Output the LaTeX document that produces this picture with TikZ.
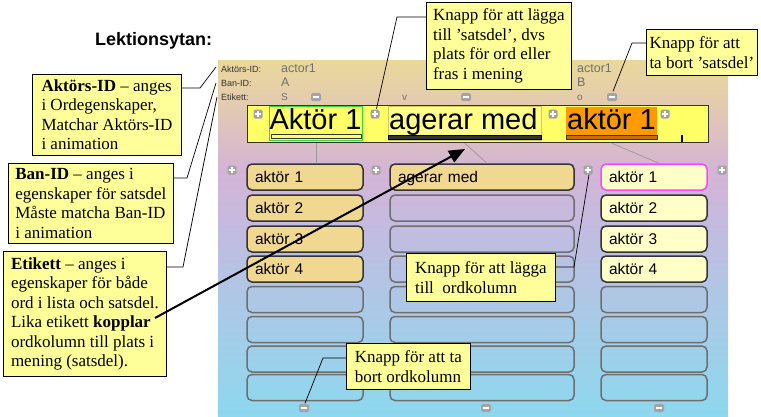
\documentclass[tikz,border=0pt]{standalone}
\usepackage{fontspec}
\setmainfont{Liberation Serif}
\newfontfamily\arial{Liberation Sans}
\usetikzlibrary{arrows.meta,calc}
\definecolor{callfill}{HTML}{FFFF99}
\definecolor{baryel}{HTML}{FFFF66}
\definecolor{segyel}{HTML}{FFFF88}
\definecolor{tan}{HTML}{F0D890}
\definecolor{lightyel}{HTML}{FFFFC8}
\definecolor{orangeseg}{HTML}{FF9900}
\definecolor{orangeline}{HTML}{C86A18}
\definecolor{greenseg}{HTML}{33DD33}
\definecolor{magentab}{HTML}{FF44FF}
\definecolor{btngray}{HTML}{A4A4A4}
\definecolor{boxdark}{HTML}{333333}
\definecolor{boxempty}{HTML}{6E6E6E}
\definecolor{lblgray}{HTML}{707070}
\definecolor{pb}{HTML}{8CD8EE}
\definecolor{ptwo}{HTML}{ADC8E6}
\definecolor{pthree}{HTML}{C2BCE0}
\definecolor{pfour}{HTML}{D4B4D6}
\definecolor{pfive}{HTML}{E4CCAE}
\definecolor{ptop}{HTML}{EAD89A}
\pgfdeclareverticalshading{panelshade}{100bp}{color(0bp)=(pb); color(25bp)=(pb); color(41bp)=(ptwo); color(51bp)=(pthree); color(59.6bp)=(pfour); color(69.4bp)=(pfive); color(75bp)=(ptop); color(100bp)=(ptop)}
\tikzset{
  callout/.style={draw=black, line width=0.8pt, fill=callfill, align=left, anchor=north west,
    inner xsep=4pt, inner ysep=2pt, font=\fontsize{17}{19.5}\selectfont},
  conn/.style={draw=black, line width=0.7pt},
  lbl/.style={font=\arial\fontsize{9}{10}\selectfont, text=boxdark, inner sep=0pt},
  val/.style={font=\arial\fontsize{12.5}{13}\selectfont, text=lblgray, inner sep=0pt},
  valsmall/.style={font=\arial\fontsize{10}{11}\selectfont, text=lblgray, inner sep=0pt},
  bigtxt/.style={font=\arial\fontsize{29}{30}\selectfont, inner sep=0pt},
  plusbtn/.style={fill=btngray, rounded corners=1.5pt, minimum size=9pt, inner sep=0pt,
    path picture={\draw[white, line width=1.7pt] ([xshift=-2.8pt]path picture bounding box.center) -- ([xshift=2.8pt]path picture bounding box.center);
      \draw[white, line width=1.7pt] ([yshift=-2.8pt]path picture bounding box.center) -- ([yshift=2.8pt]path picture bounding box.center);}},
  minusbtn/.style={fill=btngray, rounded corners=1.5pt, minimum width=10pt, minimum height=8pt, inner sep=0pt,
    path picture={\draw[white, line width=1.8pt] ([xshift=-3pt]path picture bounding box.center) -- ([xshift=3pt]path picture bounding box.center);}},
  colbox/.style={rounded corners=5pt, line width=1.5pt, minimum height=26pt, inner xsep=8pt, inner ysep=0pt,
    align=left, text height=11pt, text depth=0pt, font=\arial\fontsize{15.5}{16}\selectfont},
  colone/.style={colbox, text width=100pt},
  coltwo/.style={colbox, text width=168pt},
  colthree/.style={colbox, text width=90pt},
  full/.style={draw=boxdark, fill=tan},
  fullyel/.style={draw=boxdark, fill=lightyel},
  empty/.style={draw=boxempty},
  thin gray/.style={draw=gray!80, line width=0.7pt}
}
\begin{document}
\begin{tikzpicture}[x=1pt,y=-1pt]
\useasboundingbox (0,0) rectangle (761,416);
% panel
\shade[shading=panelshade] (218,60) rectangle (728,416);
% title
\node[font=\arial\bfseries\fontsize{18}{20}\selectfont, anchor=base west, inner sep=0pt] (title) at (95,45) {Lektionsytan:};
% labels
\node[lbl, anchor=base west] (lAkt) at (221,72) {Aktörs-ID:};
\node[lbl, anchor=base west] (lBan) at (221,86) {Ban-ID:};
\node[lbl, anchor=base west] (lEti) at (221,100) {Etikett:};
\node[val, anchor=base west] (v1a) at (281,72) {actor1};
\node[val, anchor=base west] (v1b) at (281,86) {A};
\node[valsmall, anchor=base west] (v1c) at (281,100) {S};
\node[valsmall, anchor=base west] (v2c) at (402,100) {v};
\node[val, anchor=base west] (v3a) at (577,72) {actor1};
\node[val, anchor=base west] (v3b) at (577,86) {B};
\node[valsmall, anchor=base west] (v3c) at (577,100) {o};
\node[minusbtn] (m1) at (316,97) {};
\node[minusbtn] (m2) at (466,97) {};
\node[minusbtn] (m3) at (612,97) {};
% sentence bar
\node[draw=boxdark, line width=1.2pt, fill=baryel, anchor=north west, minimum width=461pt, minimum height=37pt, inner sep=0pt] (bar) at (247,105) {};
\node[draw=greenseg, line width=1.2pt, anchor=north west, minimum width=93pt, minimum height=34pt, inner sep=0pt] (seg1) at (269,106) {};
\node[draw=boxdark, line width=0.8pt, fill=baryel, anchor=north west, minimum width=90pt, minimum height=4.5pt, inner sep=0pt] (ul1) at (271,133.5) {};
\node[draw=yellow!60!gray, line width=0.4pt, fill=segyel, anchor=north west, minimum width=153pt, minimum height=34pt, inner sep=0pt] (seg2) at (388,106) {};
\node[draw=black, line width=0.6pt, fill=boxdark, anchor=north west, minimum width=153pt, minimum height=4.5pt, inner sep=0pt] (ul2) at (388,134.5) {};
\node[fill=orangeseg, anchor=north west, minimum width=91pt, minimum height=28pt, inner sep=0pt] (seg3) at (566,107) {};
\node[draw=boxdark, line width=0.6pt, fill=orangeline, anchor=north west, minimum width=91pt, minimum height=4pt, inner sep=0pt] (ul3) at (566,135) {};
\node[bigtxt, anchor=base] (t1) at (315.5,129) {Aktör 1};
\node[bigtxt, anchor=base west] (t2) at (389,129) {agerar med};
\node[bigtxt, anchor=base] (t3) at (611.5,129) {aktör 1};
\coordinate (tickTop) at (682,135);
\coordinate (tickBot) at (682,141.5);
\draw[line width=1.4pt] (tickTop) -- (tickBot);
\node[plusbtn] (bp1) at (258,114) {};
\node[plusbtn] (bp2) at (375,114) {};
\node[plusbtn] (bp3) at (553,114) {};
\node[plusbtn] (bp4) at (665,114) {};
% columns
\node[colone, full] (c11) at (305,177) {aktör 1};
\node[colone, full] (c12) at (305,208) {aktör 2};
\node[colone, full] (c13) at (305,239) {aktör 3};
\node[colone, full] (c14) at (305,269) {aktör 4};
\node[colone, empty] (c15) at (305,299.5) {};
\node[colone, empty] (c16) at (305,329.5) {};
\node[colone, empty] (c17) at (305,359) {};
\node[colone, empty] (c18) at (305,387.5) {};
\node[coltwo, full] (c21) at (482,177) {agerar med};
\node[coltwo, empty] (c22) at (482,208) {};
\node[coltwo, empty] (c23) at (482,239) {};
\node[coltwo, empty] (c24) at (482,269) {};
\node[coltwo, empty] (c25) at (482,299.5) {};
\node[coltwo, empty] (c26) at (482,329.5) {};
\node[coltwo, empty] (c27) at (482,359) {};
\node[coltwo, empty] (c28) at (482,387.5) {};
\node[colthree, draw=magentab, fill=lightyel] (c31) at (654,177) {aktör 1};
\node[colthree, fullyel] (c32) at (654,208) {aktör 2};
\node[colthree, fullyel] (c33) at (654,239) {aktör 3};
\node[colthree, fullyel] (c34) at (654,269) {aktör 4};
\node[colthree, empty] (c35) at (654,299.5) {};
\node[colthree, empty] (c36) at (654,329.5) {};
\node[colthree, empty] (c37) at (654,359) {};
\node[colthree, empty] (c38) at (654,387.5) {};
\node[plusbtn] (cp1) at (232,170) {};
\node[plusbtn] (cp2) at (376,170) {};
\node[plusbtn] (cp3) at (588,170) {};
\node[plusbtn] (cp4) at (722,170) {};
\node[minusbtn] (cm1) at (304,408) {};
\node[minusbtn] (cm2) at (486,408) {};
\node[minusbtn] (cm3) at (659,408) {};
% column links
\draw[thin gray] (seg1.south |- bar.south) -- (seg1.south |- c11.north);
\draw[thin gray] (seg2.south |- bar.south) -- ($(c21.north)+(5,0)$);
\draw[thin gray] (seg3.south |- bar.south) -- ($(c31.north)+(5,0)$);
% callouts
\node[callout, minimum width=149pt, minimum height=81pt] (b1) at (32,74)
  {\textbf{Aktörs-ID} – anges\\i Ordegenskaper,\\Matchar Aktörs-ID\\i animation};
\node[callout, minimum width=165pt, minimum height=80pt] (b2) at (8,163)
  {\textbf{Ban-ID} – anges i\\egenskaper för satsdel\\Måste matcha Ban-ID\\i animation};
\node[callout, minimum width=163pt, minimum height=125pt] (b3) at (3,251)
  {\textbf{Etikett} – anges i\\egenskaper för både\\ord i lista och satsdel.\\Lika etikett \textbf{kopplar}\\ordkolumn till plats i\\mening (satsdel).};
\node[callout, minimum width=145pt, minimum height=87pt] (b4) at (426,2)
  {Knapp för att lägga\\till 'satsdel', dvs\\plats för ord eller\\fras i mening};
\node[callout, inner xsep=2.5pt, minimum width=111pt, minimum height=46pt] (b5) at (646,29)
  {Knapp för att\\ta bort 'satsdel'};
\node[callout, minimum width=149pt, minimum height=48pt] (b6) at (406,253)
  {Knapp för att lägga\\till\ \ ordkolumn};
\node[callout, minimum width=124pt, minimum height=46pt] (b7) at (346,343)
  {Knapp för att ta\\bort ordkolumn};
% connectors
\coordinate (k1) at (200,88);   \coordinate (e1) at (216,67);
\coordinate (k2) at (187,178);  \coordinate (e2) at (216,83);
\coordinate (k3) at (183,267);  \coordinate (e3) at (217,97);
\coordinate (k4) at (397,17);
\coordinate (k5) at (632,43);
\coordinate (k6) at (574,267);
\coordinate (k7) at (323,358);
\draw[conn] (b1.east |- k1) -- (k1) -- (e1);
\draw[conn] (b2.east |- k2) -- (k2) -- (e2);
\draw[conn] (b3.east |- k3) -- (k3) -- (e3);
\draw[conn] (b4.west |- k4) -- (k4) -- ($(bp2.north)+(1.5,-0.5)$);
\draw[conn] (b5.west |- k5) -- (k5) -- ($(m3.north)+(1,-1.5)$);
\draw[conn] (b6.east |- k6) -- (k6) -- ($(cp3.south)+(1,0)$);
\draw[conn] (b7.west |- k7) -- (k7) -- ($(cm1.north)+(1,-0.5)$);
% big arrow
\coordinate (astart) at (155,318);
\coordinate (atip) at (465,149);
\draw[line width=2pt, -{Triangle[length=16pt,width=13pt]}] (astart) -- (atip);
\end{tikzpicture}
\end{document}
